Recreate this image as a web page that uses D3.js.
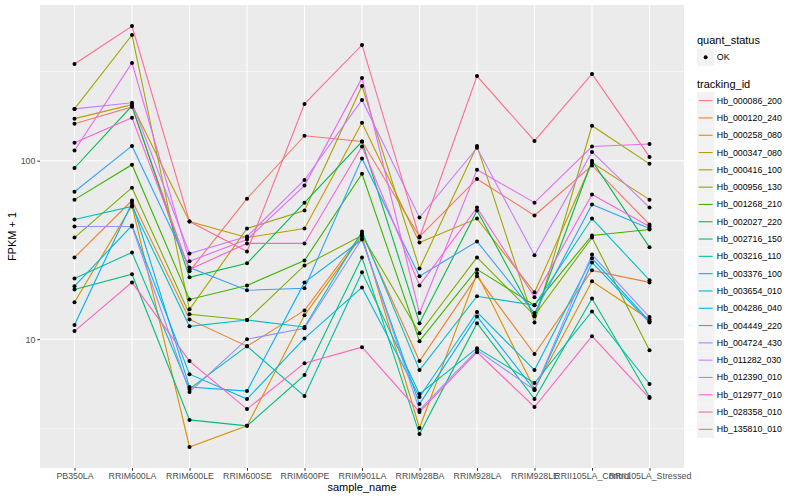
<!DOCTYPE html>
<html>
<head>
<meta charset="utf-8">
<script src="https://cdn.jsdelivr.net/npm/d3@7"></script>
<style>
body { margin: 0; background: #fff; }
svg { font-family: "Liberation Sans", Arial, sans-serif; }
</style>
</head>
<body>
<script>
// samples on the x axis
var samples = ["PB350LA", "RRIM600LA", "RRIM600LE", "RRIM600SE", "RRIM600PE", "RRIM901LA",
  "RRIM928BA", "RRIM928LA", "RRIM928LE", "RRII105LA_Control", "RRII105LA_Stressed"];

var trackingIds = ["Hb_000086_200", "Hb_000120_240", "Hb_000258_080", "Hb_000347_080", "Hb_000416_100",
  "Hb_000956_130", "Hb_001268_210", "Hb_002027_220", "Hb_002716_150", "Hb_003216_110",
  "Hb_003376_100", "Hb_003654_010", "Hb_004286_040", "Hb_004449_220", "Hb_004724_430",
  "Hb_011282_030", "Hb_012390_010", "Hb_012977_010", "Hb_028358_010", "Hb_135810_010"];

// FPKM + 1, one value per sample
var Hb_000086_200 = [161, 200, 24.0, 61.3, 138, 128, 37.6, 79, 49.3, 94, 43.9];
var Hb_000120_240 = [28.7, 59.8, 12.9, 9.14, 14.5, 39.1, 7.54, 22.5, 8.25, 24.3, 20.8];
var Hb_000258_080 = [16.1, 56.1, 2.49, 3.27, 13.6, 38.1, 3.18, 23.4, 5.26, 21.1, 12.9];
var Hb_000347_080 = [172, 206, 45.6, 37.1, 41.7, 163, 34.8, 47.4, 18.3, 97.5, 60.5];
var Hb_000416_100 = [195, 506, 14.7, 41.7, 52.6, 262, 24.9, 121, 12.4, 157, 96];
var Hb_000956_130 = [37.1, 70.6, 13.8, 12.8, 25.9, 38.1, 10.8, 28.7, 13.6, 37.1, 8.68];
var Hb_001268_210 = [60.5, 95, 16.7, 20.0, 27.6, 84.5, 9.75, 24.6, 15.5, 38.1, 41.2];
var Hb_002027_220 = [91, 203, 22.2, 26.6, 58.2, 128, 12.3, 52.6, 13.4, 100, 32.7];
var Hb_002716_150 = [19.0, 23.1, 3.53, 3.27, 6.29, 28.7, 2.94, 12.3, 4.62, 16.9, 4.74];
var Hb_003216_110 = [21.9, 30.6, 5.26, 9.14, 4.80, 23.7, 4.93, 8.91, 5.68, 14.3, 5.61];
var Hb_003376_100 = [46.8, 55.4, 11.8, 12.8, 11.7, 40.1, 6.71, 17.4, 15.5, 47.4, 21.4];
var Hb_003654_010 = [19.8, 43.3, 6.37, 4.62, 10.1, 19.5, 4.74, 14.2, 6.71, 28.4, 12.6];
var Hb_004286_040 = [12.0, 58.2, 5.39, 5.12, 20.8, 36.2, 4.33, 13.4, 5.19, 26.9, 12.4];
var Hb_004449_220 = [67, 121, 25.2, 18.8, 19.3, 103, 22.5, 35.3, 14.0, 56.8, 41.7];
var Hb_004724_430 = [42.8, 42.8, 5.06, 10.0, 11.5, 36.6, 4.01, 8.68, 5.19, 29.8, 13.3];
var Hb_011282_030 = [195, 211, 30.2, 37.6, 78, 219, 48.0, 118, 29.5, 112, 54.6];
var Hb_012390_010 = [114, 353, 27.3, 36.2, 72.5, 291, 14.0, 89, 58.2, 120, 124];
var Hb_012977_010 = [126, 174, 24.6, 34.4, 34.4, 120, 20.0, 54.6, 17.2, 64.6, 42.8];
var Hb_028358_010 = [11.1, 20.8, 7.54, 4.06, 7.34, 9.02, 3.91, 8.46, 4.17, 10.4, 4.68];
var Hb_135810_010 = [348, 568, 45.6, 31.0, 208, 445, 37.1, 298, 129, 306, 105];

var valueRows = [Hb_000086_200, Hb_000120_240, Hb_000258_080, Hb_000347_080, Hb_000416_100,
  Hb_000956_130, Hb_001268_210, Hb_002027_220, Hb_002716_150, Hb_003216_110,
  Hb_003376_100, Hb_003654_010, Hb_004286_040, Hb_004449_220, Hb_004724_430,
  Hb_011282_030, Hb_012390_010, Hb_012977_010, Hb_028358_010, Hb_135810_010];

var colors = ["#F8766D", "#EA8331", "#D89000", "#C09B00", "#A3A500", "#7CAE00", "#39B600", "#00BB4E",
  "#00BF7D", "#00C1A3", "#00BFC4", "#00BAE0", "#00B0F6", "#35A2FF", "#9590FF", "#C77CFF",
  "#E76BF3", "#FA62DB", "#FF62BC", "#FF6C91"];

var yTicks = [10, 100];
var yMinor = [Math.pow(10, 0.5), Math.pow(10, 1.5), Math.pow(10, 2.5)];

var width = 800, height = 500;
var panel = {left: 40, right: 684, top: 5, bottom: 468};

var series = trackingIds.map((id, i) => ({id: id, color: colors[i], values: valueRows[i]}));

var x = d3.scalePoint()
    .domain(samples)
    .range([panel.left, panel.right])
    .padding(0.6);

// ggplot style 5% expansion on the log scale
var allVals = d3.merge(valueRows);
var lo = Math.log10(d3.min(allVals)), hi = Math.log10(d3.max(allVals));
var ex = (hi - lo) * 0.05;
var y = d3.scaleLog()
    .domain([Math.pow(10, lo - ex), Math.pow(10, hi + ex)])
    .range([panel.bottom, panel.top]);

const svg = d3.select("body").append("svg")
    .attr("width", width)
    .attr("height", height);

svg.append("rect")
    .attr("x", panel.left).attr("y", panel.top)
    .attr("width", panel.right - panel.left)
    .attr("height", panel.bottom - panel.top)
    .attr("fill", "#EBEBEB");

// grid
svg.append("g").selectAll("line")
    .data(yMinor).enter().append("line")
    .attr("x1", panel.left).attr("x2", panel.right)
    .attr("y1", d => y(d)).attr("y2", d => y(d))
    .attr("stroke", "#fff").attr("stroke-width", 0.55);

svg.append("g").selectAll("line")
    .data(yTicks).enter().append("line")
    .attr("x1", panel.left).attr("x2", panel.right)
    .attr("y1", d => y(d)).attr("y2", d => y(d))
    .attr("stroke", "#fff").attr("stroke-width", 1.1);

svg.append("g").selectAll("line")
    .data(samples).enter().append("line")
    .attr("x1", d => x(d)).attr("x2", d => x(d))
    .attr("y1", panel.top).attr("y2", panel.bottom)
    .attr("stroke", "#fff").attr("stroke-width", 1.1);

// lines
var line = d3.line()
    .x((d, i) => x(samples[i]))
    .y(d => y(d));

svg.append("g")
    .selectAll("path")
    .data(series).enter().append("path")
    .attr("d", d => line(d.values))
    .attr("fill", "none")
    .attr("stroke", d => d.color)
    .attr("stroke-width", 1.1);

// points
svg.append("g")
    .selectAll("g")
    .data(series).enter().append("g")
    .selectAll("circle")
    .data(d => d.values).enter().append("circle")
    .attr("cx", (d, i) => x(samples[i]))
    .attr("cy", d => y(d))
    .attr("r", 2)
    .attr("fill", "#000");

// axes
var yAxis = g => g
    .attr("transform", `translate(${panel.left},0)`)
    .call(d3.axisLeft(y).tickValues(yTicks).tickFormat(d3.format("d")).tickSize(2.7).tickPadding(2))
    .call(g => g.select(".domain").remove());

var xAxis = g => g
    .attr("transform", `translate(0,${panel.bottom})`)
    .call(d3.axisBottom(x).tickSize(2.7).tickPadding(2))
    .call(g => g.select(".domain").remove());

svg.append("g").call(yAxis);
svg.append("g").call(xAxis);

svg.selectAll(".tick line").attr("stroke", "#333333").attr("stroke-width", 1);
svg.selectAll(".tick text")
    .attr("fill", "#4D4D4D")
    .style("font-size", "8.8px")
    .style("font-family", "Liberation Sans, Arial, sans-serif");

svg.append("text")
    .attr("x", (panel.left + panel.right) / 2)
    .attr("y", 491)
    .attr("text-anchor", "middle")
    .style("font-size", "11px")
    .text("sample_name");

svg.append("text")
    .attr("transform", `translate(16,${(panel.top + panel.bottom) / 2}) rotate(-90)`)
    .attr("text-anchor", "middle")
    .style("font-size", "11px")
    .text("FPKM + 1");

// legends
var lg = svg.append("g").attr("transform", "translate(697,0)");
var keySize = 17.3;

lg.append("text").attr("x", 0).attr("y", 44).style("font-size", "11px").text("quant_status");
lg.append("rect").attr("x", 0).attr("y", 48.5).attr("width", keySize).attr("height", keySize).attr("fill", "#F2F2F2");
lg.append("circle").attr("cx", keySize / 2).attr("cy", 48.5 + keySize / 2).attr("r", 2).attr("fill", "#000");
lg.append("text").attr("x", keySize + 2.5).attr("y", 48.5 + keySize / 2 + 3).style("font-size", "8.8px").text("OK");

lg.append("text").attr("x", 0).attr("y", 88).style("font-size", "11px").text("tracking_id");

var rows = lg.append("g").attr("transform", "translate(0,92)")
    .selectAll("g")
    .data(series).enter().append("g")
    .attr("transform", (d, i) => `translate(0,${i * keySize})`);

rows.append("rect")
    .attr("width", keySize).attr("height", keySize)
    .attr("fill", "#F2F2F2");
rows.append("line")
    .attr("x1", 1.7).attr("x2", keySize - 1.7)
    .attr("y1", keySize / 2).attr("y2", keySize / 2)
    .attr("stroke", d => d.color)
    .attr("stroke-width", 1.1);
rows.append("text")
    .attr("x", keySize + 2.5)
    .attr("y", keySize / 2 + 3)
    .style("font-size", "8.8px")
    .text(d => d.id);
</script>
</body>
</html>
